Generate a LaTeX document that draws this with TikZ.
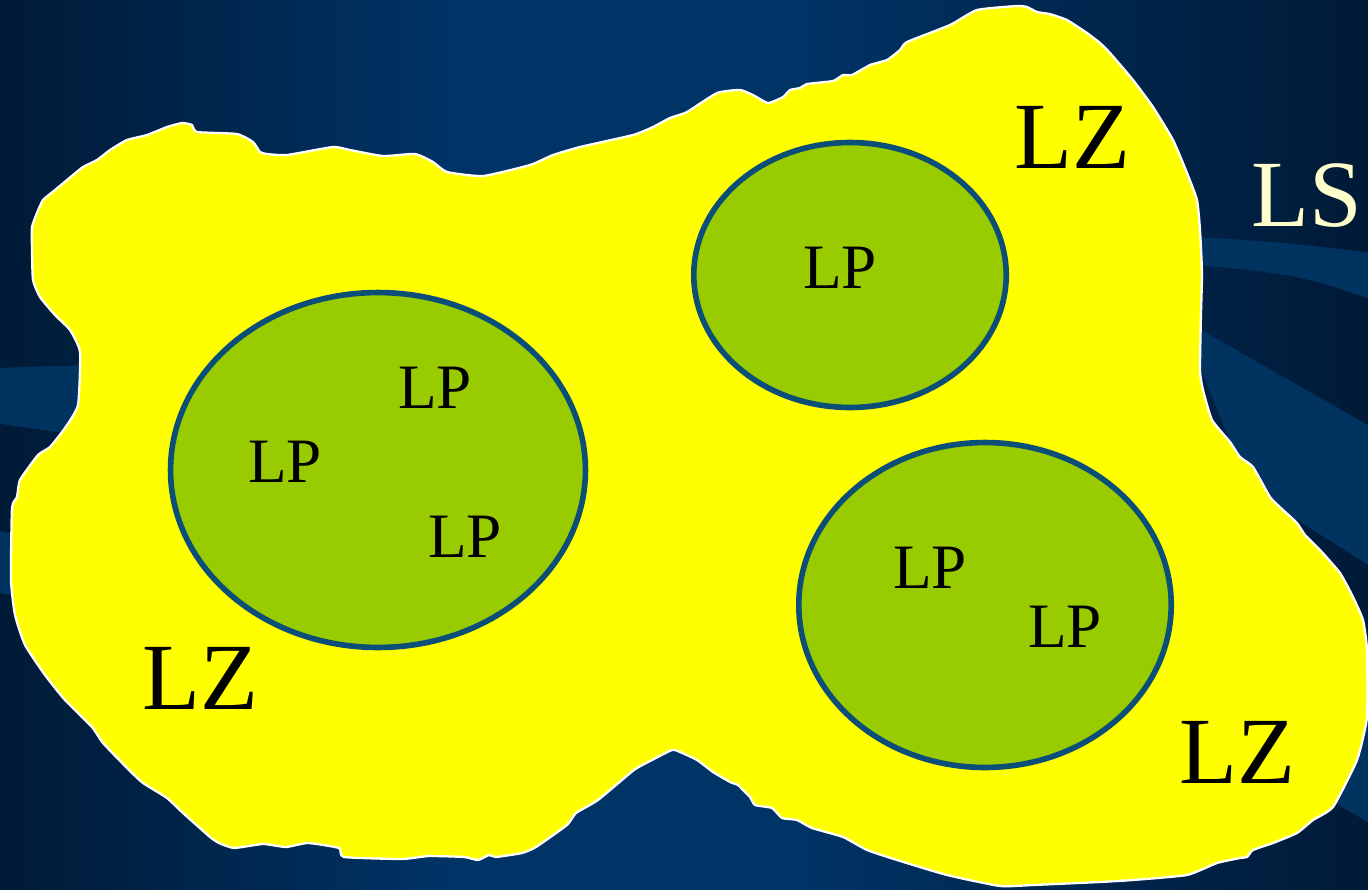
\documentclass[tikz,border=0pt]{standalone}
\usepackage{fontspec}
\setmainfont{Liberation Serif}
\usetikzlibrary{shapes.geometric}
\definecolor{bgdark}{HTML}{001A36}
\definecolor{bglight}{HTML}{003366}
\definecolor{bandblue}{HTML}{00335F}
\definecolor{lzyellow}{HTML}{FFFF00}
\definecolor{zonefill}{HTML}{99CC00}
\definecolor{zoneline}{HTML}{0B4F79}
\definecolor{lscream}{HTML}{FFFFCC}
\tikzset{
		blob/.style={fill=lzyellow, draw=white, line width=1.3pt, line join=round},
		band/.style={fill=bandblue, draw=none},
		zone/.style={ellipse, fill=zonefill, draw=zoneline, line width=3.2pt,
			inner sep=0pt},
		annot/.style={inner sep=0pt, text=black,
			font=\fontsize{36}{40}\selectfont},
		big/.style={inner sep=0pt, text=black,
			font=\fontsize{54}{60}\selectfont},
	}

\begin{document}
\begin{tikzpicture}
				[x=0.02cm, y=-0.02cm]
				\useasboundingbox (0,0) rectangle (1368,889);
				\shade[left color=bgdark, right color=bglight] (-5,-5) rectangle (450,895);
				\fill[bglight] (449,-5) rectangle (801,895);
				\shade[left color=bglight, right color=bgdark] (800,-5) rectangle (1373,895);

				% background swooshes
				\fill[band] (-5,368) -- (120,364) -- (120,445) -- (58,432) -- (-5,423) -- cycle;
				\fill[band] (-5,530) -- (40,540) -- (40,600) -- (-5,592) -- cycle;
				\fill[band] (1180,236) .. controls (1280,242) .. (1373,253) -- (1373,300)
					.. controls (1300,275) .. (1180,263) -- cycle;
				\fill[band] (1180,318) -- (1373,428) -- (1373,568) -- (1250,490) -- cycle;
				\fill[band] (1300,700) -- (1373,700) -- (1373,825) -- (1330,800) -- cycle;

				% LZ area
				\draw[blob] plot[smooth cycle, tension=0.3] coordinates {
					(32,227) (37,213) (43,200) (55,190) (67,180) (83,167) (97,160) (110,150)
					(127,140) (147,135) (167,127) (182,123) (192,125) (197,132) (237,134)
					(253,142) (260,152) (267,154) (287,155) (333,147) (350,150) (383,156)
					(415,154) (433,162) (447,172) (483,176) (530,165) (553,155) (580,147)
					(633,135) (653,127) (670,118) (687,112) (717,93) (740,90) (753,95)
					(768,103) (783,97) (790,90) (800,88) (807,84) (833,81) (843,75) (852,75)
					(870,65) (887,60) (900,50) (907,42) (950,25) (977,10) (1017,6) (1027,7)
					(1037,12) (1050,14) (1053,15) (1067,20) (1087,33) (1100,43) (1110,53)
					(1133,80) (1153,107) (1173,140) (1187,173) (1197,200) (1200,230)
					(1202,273) (1201,313) (1200,370) (1203,390) (1212,420) (1230,442)
					(1240,457) (1253,467) (1270,497) (1283,510) (1297,523) (1305,535)
					(1320,550) (1340,573) (1353,597) (1363,620) (1367,650) (1367,717)
					(1357,760) (1333,807) (1313,820) (1297,833) (1273,843) (1253,850)
					(1247,857) (1240,858) (1217,863) (1187,875) (1133,880) (1100,882)
					(1033,885) (1000,886) (947,875) (897,860) (867,850) (843,837) (812,828)
					(797,820) (782,818) (772,808) (755,805) (750,797) (743,790) (738,785)
					(730,782) (713,772) (697,760) (680,752) (672,750) (652,760) (634,770)
					(598,800) (576,813) (567,825) (536,847) (522,853) (496,857) (489,855)
					(478,860) (464,857) (429,856) (402,859) (344,857) (339,848) (308,843)
					(286,847) (263,844) (234,848) (219,843) (210,837) (183,813) (167,798)
					(143,783) (129,770) (103,743) (92,727) (65,700) (45,675) (25,645)
					(15,615) (11,580) (12,508) (17,497) (20,480) (38,455) (50,447) (65,428)
					(78,405) (80,352) (70,330) (55,315) (40,297) (33,280) (32,250)};

				% LP areas
				\node[zone, minimum width=8.3cm, minimum height=7.1cm] (zoneLeft)  at (378,470) {};
				\node[zone, minimum width=6.25cm, minimum height=5.3cm] (zoneTop)   at (850,275) {};
				\node[zone, minimum width=7.45cm, minimum height=6.5cm] (zoneRight) at (985,605) {};

				\node[annot] (lpTop)  at (840,268)  {LP};
				\node[annot] (lpA)    at (435,388)  {LP};
				\node[annot] (lpB)    at (285,462)  {LP};
				\node[annot] (lpC)    at (465,537)  {LP};
				\node[annot] (lpD)    at (930,568)  {LP};
				\node[annot] (lpE)    at (1065,627) {LP};

				\node[big] (lzTop)   at (1072,137) {LZ};
				\node[big] (lzLeft)  at (200,678)  {LZ};
				\node[big] (lzRight) at (1237,752) {LZ};
				\node[big, text=lscream] (ls) at (1307,196) {LS};

			\end{tikzpicture}
\end{document}
